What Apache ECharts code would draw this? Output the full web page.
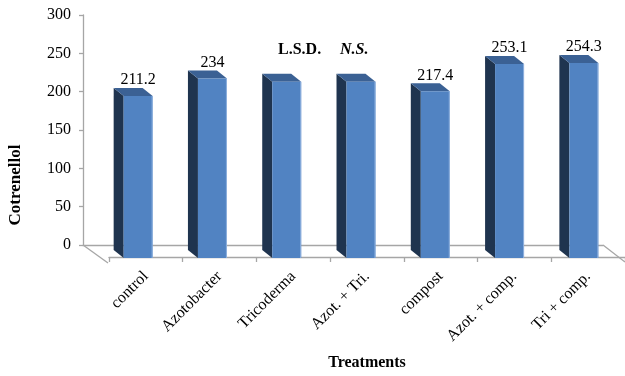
<!DOCTYPE html>
<html>
<head>
<meta charset="utf-8">
<script src="https://cdn.jsdelivr.net/npm/echarts@6/dist/echarts.min.js"></script>
<style>
  html, body { margin: 0; padding: 0; background: #fff; }
  #chart { width: 625px; height: 376px; }
</style>
</head>
<body>
<div id="chart"></div>
<script>
// Treatments and their cotrenellol values
const categories = ['control', 'Azotobacter', 'Tricoderma', 'Azot. + Tri.', 'compost', 'Azot. + comp.', 'Tri + comp.'];
const cotrenellol = [211.2, 234, 230, 230, 217.4, 253.1, 254.3];
// which bars carry a value label
const labelled = [true, true, false, false, true, true, true];
// value axis range
const yMin = 0, yMax = 300, yStep = 50;

const SERIF = "'Liberation Serif', 'Times New Roman', serif";
const GRAY = '#a6a6a6';

// layout of the pseudo-3D box
const back = { left: 83, right: 603, top: 15, floor: 245 };
const front = { left: 109, right: 629, floor: 263 };
const depth = { dx: -10, dy: -8 };   // offset from a bar's front face to its back face

const chart = echarts.init(document.getElementById('chart'), null, { renderer: 'canvas' });

const option = {
  animation: false,
  backgroundColor: '#fff',
  grid: [
    // back wall: value axis + back floor edge
    { left: back.left, top: back.top, width: back.right - back.left, height: back.floor - back.top },
    // front floor edge with category labels
    { left: front.left, top: back.top, width: front.right - front.left, height: front.floor - back.top },
    // bars (front faces sit on the middle of the floor)
    { left: front.left - 8, top: 258 - (back.floor - back.top), width: front.right - front.left, height: back.floor - back.top }
  ],
  xAxis: [
    { gridIndex: 0, type: 'category', data: categories, axisLine: { lineStyle: { color: GRAY, width: 1.3 } },
      axisTick: { show: false }, axisLabel: { show: false } },
    { gridIndex: 1, type: 'category', data: categories,
      axisLine: { lineStyle: { color: GRAY, width: 1.3 } },
      axisTick: { show: true, length: 5, inside: false, lineStyle: { color: GRAY, width: 1.3 } },
      axisLabel: { rotate: 45, margin: 17, color: '#000', fontFamily: SERIF, fontSize: 16, interval: 0 },
      name: 'Treatments', nameLocation: 'middle', nameGap: 98,
      nameTextStyle: { fontFamily: SERIF, fontWeight: 'bold', fontSize: 16, color: '#000' } },
    { gridIndex: 2, type: 'category', data: categories, show: false }
  ],
  yAxis: [
    { gridIndex: 0, type: 'value', min: yMin, max: yMax, interval: yStep,
      axisLine: { show: true, lineStyle: { color: GRAY, width: 1.3 } },
      axisTick: { show: true, length: 4, lineStyle: { color: GRAY, width: 1.3 } },
      axisLabel: { margin: 12, color: '#000', fontFamily: SERIF, fontSize: 16 },
      splitLine: { show: false } },
    { gridIndex: 1, type: 'value', min: yMin, max: yMax, show: false },
    { gridIndex: 2, type: 'value', min: yMin, max: yMax, show: false }
  ],
  graphic: [
    // floor side edges
    { type: 'line', shape: { x1: back.left, y1: back.floor, x2: front.left - 1, y2: front.floor },
      style: { stroke: GRAY, lineWidth: 1.3 } },
    { type: 'line', shape: { x1: back.right, y1: back.floor, x2: 625, y2: front.floor - 1 },
      style: { stroke: GRAY, lineWidth: 1.3 } },
    // value axis title
    { type: 'text', x: 16, y: 185, rotation: Math.PI / 2,
      style: { text: 'Cotrenellol', fill: '#000', font: "bold 17px " + SERIF, textAlign: 'center', textVerticalAlign: 'middle' } },
    // significance note
    { type: 'text', x: 278, y: 50,
      style: { text: 'L.S.D.', fill: '#000', font: "bold 16px " + SERIF, textAlign: 'left', textVerticalAlign: 'middle' } },
    { type: 'text', x: 340, y: 50,
      style: { text: 'N.S.', fill: '#000', font: "italic bold 16px " + SERIF, textAlign: 'left', textVerticalAlign: 'middle' } }
  ],
  series: [
    {
      type: 'custom',
      xAxisIndex: 2, yAxisIndex: 2,
      data: cotrenellol.map((v, i) => [i, v, labelled[i] ? 1 : 0]),
      renderItem: function (params, api) {
        const i = api.value(0);
        const v = api.value(1);
        const top = api.coord([i, v]);
        const base = api.coord([i, 0]);
        const w = api.size([1, 0])[0] * 0.39;
        const x0 = top[0] - w / 2, x1 = top[0] + w / 2;
        const yT = top[1], yB = base[1];
        const dx = depth.dx, dy = depth.dy;
        const children = [
          { type: 'polygon', shape: { points: [[x0, yT], [x0, yB], [x0 + dx, yB + dy], [x0 + dx, yT + dy]] },
            style: { fill: '#1f344f' } },
          { type: 'polygon', shape: { points: [[x0, yT], [x1, yT], [x1 + dx, yT + dy], [x0 + dx, yT + dy]] },
            style: { fill: '#3b6194' } },
          { type: 'rect', shape: { x: x0, y: yT, width: w, height: yB - yT },
            style: { fill: '#5183c2' } },
          { type: 'line', shape: { x1: x1 - 0.5, y1: yT, x2: x1 - 0.5, y2: yB },
            style: { stroke: '#8fb1de', lineWidth: 1 } }
        ];
        if (api.value(2)) {
          children.push({ type: 'text', x: top[0], y: yT + dy - 8,
            style: { text: String(v), fill: '#000', font: '16px ' + SERIF, textAlign: 'center', textVerticalAlign: 'middle' } });
        }
        return { type: 'group', children: children };
      }
    }
  ]
};

chart.setOption(option);
</script>
</body>
</html>
